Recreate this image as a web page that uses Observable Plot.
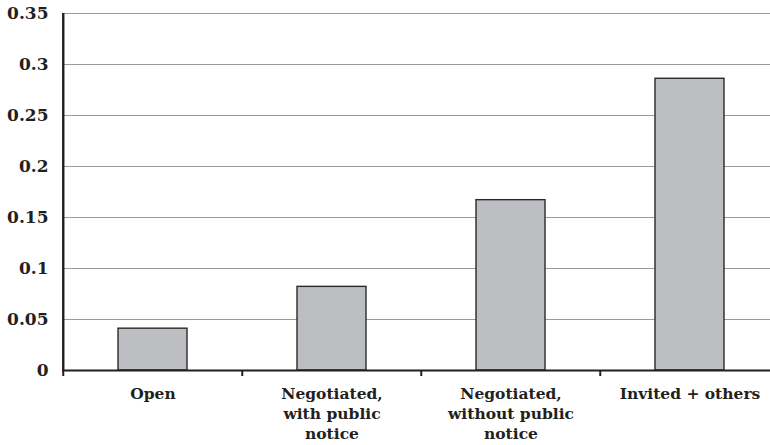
<!DOCTYPE html>
<html>
<head>
<meta charset="utf-8">
<script src="https://cdn.jsdelivr.net/npm/d3@7"></script>
<script src="https://cdn.jsdelivr.net/npm/@observablehq/plot@0.6"></script>
<style>
  html, body { margin: 0; padding: 0; background: white; }
  body { width: 770px; height: 445px; overflow: hidden; }
</style>
</head>
<body>
<div id="chart"></div>
<script>
const categories = ["Open", "Negotiated,\nwith public\nnotice", "Negotiated,\nwithout public\nnotice", "Invited + others"];
const values = [0.041, 0.082, 0.167, 0.286];
const yTicks = [0, 0.05, 0.1, 0.15, 0.2, 0.25, 0.3, 0.35];

const data = categories.map((c, i) => ({category: c, value: values[i]}));

const width = 770, height = 445;
const marginLeft = 62, marginRight = -10, marginTop = 13, marginBottom = 75;
const step = (width - marginLeft - marginRight) / categories.length;
const font = "'DejaVu Serif', serif";
const ink = "#231f20";

const chart = Plot.plot({
  width, height, marginLeft, marginRight, marginTop, marginBottom,
  style: {fontFamily: font, background: "white", overflow: "visible"},
  x: {domain: categories, padding: 0, axis: null},
  y: {domain: [0, 0.35], axis: null},
  marks: [
    Plot.gridY(yTicks.filter(d => d > 0), {stroke: "#9a9a9a", strokeOpacity: 1, strokeWidth: 1}),
    Plot.barY(data, {x: "category", y: "value", fill: "#bdbec2", stroke: "#2a2a2a", strokeWidth: 1.4, insetLeft: 55, insetRight: 55}),
    Plot.ruleY([0], {stroke: ink, strokeWidth: 2.2}),
    Plot.ruleX([categories[0]], {x: d => d, y1: 0, y2: 0.35, dx: -step / 2, stroke: ink, strokeWidth: 2.4}),
    Plot.ruleX(categories, {x: d => d, y1: 0, y2: 0, dx: -step / 2, insetTop: 0, insetBottom: -6, stroke: ink, strokeWidth: 2}),
    Plot.ruleY(yTicks, {y: d => d, x1: categories[0], x2: categories[0], dx: -step / 2, stroke: ink, strokeWidth: 2, insetLeft: -5, insetRight: 0}),
    Plot.text(yTicks, {y: d => d, frameAnchor: "left", dx: -14, textAnchor: "end", text: d => String(+d.toFixed(2)), fontSize: 17, fontWeight: "bold", fill: ink}),
    Plot.text(categories, {x: d => d, y: 0, text: d => d, lineAnchor: "top", dy: 14, lineHeight: 1.3, fontSize: 15.5, fontWeight: "bold", fill: ink})
  ]
});
document.getElementById("chart").appendChild(chart);
</script>
</body>
</html>
